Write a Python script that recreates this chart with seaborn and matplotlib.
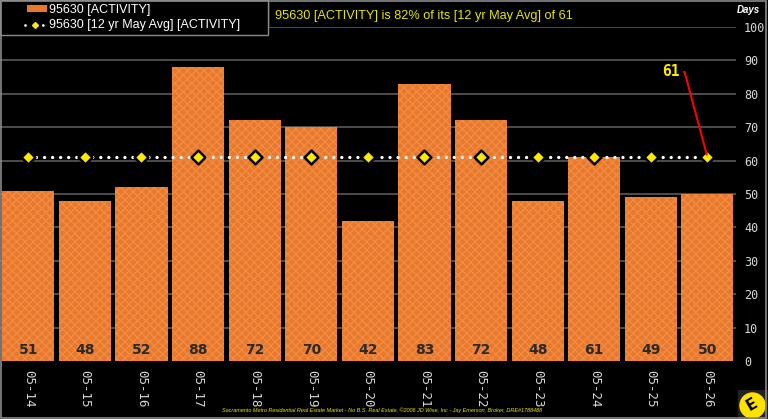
import numpy as np
import pandas as pd
import matplotlib
matplotlib.use('Agg')
import matplotlib.pyplot as plt
import seaborn as sns
from matplotlib.patches import Rectangle

years = ['05-14', '05-15', '05-16', '05-17', '05-18', '05-19', '05-20',
         '05-21', '05-22', '05-23', '05-24', '05-25', '05-26']
activity = [51, 48, 52, 88, 72, 70, 42, 83, 72, 48, 61, 49, 50]
avg_12yr = [61] * 13

df = pd.DataFrame({'year': years, 'activity': activity, 'avg': avg_12yr})

sns.set_style('dark')
plt.rcParams['font.family'] = ['DejaVu Sans']

fig = plt.figure(figsize=(7.68, 4.19), dpi=100, facecolor='black')
ax = fig.add_axes([0.0, 0.138, 0.958, 0.798])
ax.set_facecolor('black')

# gridlines behind everything
for v in range(10, 101, 10):
    ax.axhline(v, color='#5a5a5a', lw=1.2, zorder=0)

sns.barplot(data=df, x='year', y='activity', color='#E9792A', width=0.92,
            saturation=1, ax=ax, zorder=2)
for p in ax.patches:
    p.set_hatch('xxxx')
    p.set_edgecolor('#F08B45')
    p.set_linewidth(0)

ax.plot(range(len(years)), df['avg'], color='white', ls=(0, (0.01, 2.4)),
        lw=2.4, dash_capstyle='round', zorder=3)
ax.scatter(range(len(years)), df['avg'], marker='D', s=50, color='#FFE800',
           edgecolor='black', linewidth=1.8, zorder=4)

for i, v in enumerate(activity):
    ax.text(i, 3.4, str(v), ha='center', va='center', fontsize=10,
            fontweight='bold', color='#2a2a2a', zorder=5)

ax.set_xlim(-0.5, len(years) - 0.5)
ax.set_ylim(0, 100)
ax.yaxis.tick_right()
ax.set_yticks(range(0, 101, 10))
ax.tick_params(axis='y', colors='#d8d8d8', labelsize=8.5, length=0, pad=6)
ax.tick_params(axis='x', colors='#d8d8d8', labelsize=9, length=0, pad=6)
for lbl in ax.get_yticklabels() + ax.get_xticklabels():
    lbl.set_family('DejaVu Sans Mono')
ax.set_xticks(range(len(years)))
ax.set_xticklabels(years, rotation=270)
ax.set_xlabel('')
ax.set_ylabel('')
for s in ax.spines.values():
    s.set_visible(False)
ax.grid(False)

# annotation for the latest average
ax.annotate('61', xy=(12, 61), xytext=(11.5, 86.5), color='#FFE800',
            fontsize=10.5, fontweight='bold', ha='right', va='center',
            family='DejaVu Sans Mono',
            arrowprops=dict(arrowstyle='-', color='red', lw=1.5,
                            connectionstyle='angle,angleA=0,angleB=-75,rad=0',
                            shrinkA=1, shrinkB=2),
            zorder=6)

# legend box
fig.patches.append(Rectangle((0.0, 0.9165), 0.349, 0.0835, transform=fig.transFigure,
                             facecolor='black', edgecolor='#8a8a8a', lw=1, zorder=10))
fig.patches.append(Rectangle((0.035, 0.971), 0.026, 0.018, transform=fig.transFigure,
                             facecolor='#E9792A', edgecolor='none', zorder=11))
fig.text(0.064, 0.977, '95630 [ACTIVITY]', color='white', fontsize=9,
         family='Liberation Sans', va='center', zorder=12)
fig.lines.append(plt.Line2D([0.033, 0.060], [0.94, 0.94], transform=fig.transFigure,
                            color='white', ls=(0, (0.01, 3.2)), lw=2,
                            dash_capstyle='round', zorder=11))
fig.lines.append(plt.Line2D([0.046], [0.94], transform=fig.transFigure, marker='D',
                            ms=3, color='#FFE800', lw=0, zorder=12))
fig.text(0.064, 0.94, '95630 [12 yr May Avg] [ACTIVITY]', color='white', fontsize=9,
         family='Liberation Sans', va='center', zorder=12)

# headline box
fig.lines.append(plt.Line2D([0.349, 0.349], [1.0, 0.935],
                            transform=fig.transFigure, color='#8a8a8a', lw=1, zorder=10))
fig.text(0.358, 0.963, '95630 [ACTIVITY] is 82% of its [12 yr May Avg] of 61',
         color='#E6E600', fontsize=9.2, family='Liberation Sans', va='center', zorder=12)
fig.text(0.99, 0.976, 'Days', color='white', fontsize=7, fontweight='bold',
         style='italic', ha='right', va='center', family='Liberation Sans')

fig.text(0.289, 0.022, 'Sacramento Metro Residential Real Estate Market - No B.S. Real Estate, '
         '\u00a92006 JD Wise, Inc - Jay Emerson, Broker, DRE#1788488',
         color='#E6E600', fontsize=4, style='italic', va='center', family='Liberation Sans')

# logo
fig.patches.append(Rectangle((0.961, 0.0), 0.039, 0.07, transform=fig.transFigure,
                             facecolor='#222222', edgecolor='none', zorder=10))
fig.lines.append(plt.Line2D([0.979], [0.034], transform=fig.transFigure, marker='o',
                            ms=18, color='#FFE100', lw=0, zorder=11))
fig.text(0.979, 0.034, 'E', color='black', fontsize=11, fontweight='bold',
         ha='center', va='center', rotation=30, zorder=12)

# outer border
fig.patches.append(Rectangle((0.001, 0.002), 0.997, 0.996, transform=fig.transFigure,
                             facecolor='none', edgecolor='#8a8a8a', lw=1.2, zorder=20))

fig.savefig('out.png', dpi=100, facecolor='black')
